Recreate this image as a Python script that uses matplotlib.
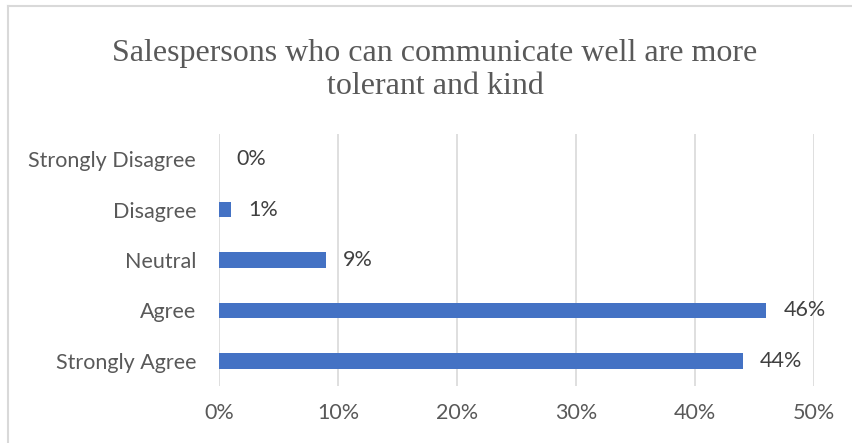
import matplotlib
matplotlib.use("Agg")
import matplotlib.pyplot as plt
from matplotlib.lines import Line2D
from matplotlib.ticker import FuncFormatter

categories = ["Strongly Agree", "Agree", "Neutral", "Disagree", "Strongly Disagree"]
values = [44, 46, 9, 1, 0]
xticks = [0, 10, 20, 30, 40, 50]
title = "Salespersons who can communicate well are more\ntolerant and kind"

bar_color = "#4472C4"
text_color = "#595959"
grid_color = "#D9D9D9"
label_size = 15.5

fig = plt.figure(figsize=(8.53, 4.43), dpi=100)
ax = fig.add_axes([0.2567, 0.1287, 0.6976, 0.5688])

ypos = range(len(categories))
ax.barh(ypos, values, height=0.31, color=bar_color, zorder=3)

ax.set_xlim(0, 50)
ax.set_ylim(-0.5, len(categories) - 0.5)
ax.set_xticks(xticks)
ax.xaxis.set_major_formatter(FuncFormatter(lambda v, p: f"{v:.0f}%"))
ax.set_yticks(list(ypos))
ax.set_yticklabels(categories)

ax.grid(axis="x", color=grid_color, linewidth=1.2, zorder=0)
for s in ax.spines.values():
    s.set_visible(False)
ax.tick_params(axis="both", length=0, colors=text_color, labelsize=label_size)
ax.tick_params(axis="x", pad=12)
ax.tick_params(axis="y", pad=16.5)
for lbl in ax.get_xticklabels() + ax.get_yticklabels():
    lbl.set_family("Lato")

for y, v in zip(ypos, values):
    ax.annotate(f"{v}%", xy=(v, y), xytext=(12.3, 0), textcoords="offset points",
                ha="left", va="center", fontsize=label_size, color="#404040",
                family="Lato")

fig.text(0.51, 0.842, title, ha="center", va="center", fontsize=23,
         family="Liberation Serif", color=text_color, linespacing=1.2)

# chart frame (top and left edges)
fig.add_artist(Line2D([8 / 853, 1.0], [1 - 6 / 443] * 2, transform=fig.transFigure,
                      color="#D9D9D9", linewidth=1.5))
fig.add_artist(Line2D([8 / 853] * 2, [0, 1 - 6 / 443], transform=fig.transFigure,
                      color="#D9D9D9", linewidth=1.5))

fig.savefig("out.png", dpi=100, facecolor="white")
